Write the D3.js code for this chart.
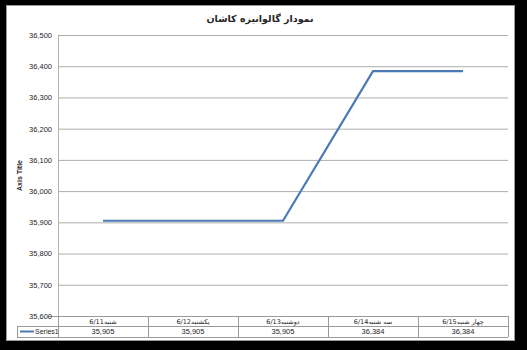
<html>
<meta charset="utf-8">
<style type="text/css">
  body { margin: 0; background: #000; }
  text { font-family: "Liberation Sans", Arial, "DejaVu Sans", sans-serif; fill: #262626; }
  .fa { font-family: "DejaVu Sans", sans-serif; }
</style>
<body>
<script src="https://d3js.org/d3.v7.min.js"></script>
<div id="chart"></div>
<script>
  const categories = ["6/11شنبه", "6/12یکشنبه", "6/13دوشنبه", "6/14سه شنبه", "6/15چهار شنبه"];
  const series1 = [35905, 35905, 35905, 36384, 36384];
  const yTicks = [35600, 35700, 35800, 35900, 36000, 36100, 36200, 36300, 36400, 36500];
  const seriesName = "Series1";
  const title = "نمودار گالوانیزه کاشان";
  const axisTitle = "Axis Title";

  const width = 527,
    height = 350;
  const plot = {left: 58, right: 508, top: 35, bottom: 316};

  const svg = d3.select("#chart").append("svg")
    .attr("width", width)
    .attr("height", height)
    .style("display", "block");

  // black frame + white chart area
  svg.append("rect").attr("width", width).attr("height", height).attr("fill", "#000");
  svg.append("rect")
    .attr("x", 6.5).attr("y", 5.5)
    .attr("width", 508).attr("height", 335)
    .attr("fill", "#fff")
    .attr("stroke", "#9a9a9a");

  const x = d3.scaleBand()
    .domain(categories)
    .range([plot.left, plot.right]);

  const y = d3.scaleLinear()
    .domain([35600, 36500])
    .range([plot.bottom, plot.top]);

  // gridlines + y labels
  const yAxis = svg.append("g")
    .attr("transform", `translate(${plot.left},0)`)
    .call(d3.axisLeft(y)
      .tickValues(yTicks)
      .tickSize(-(plot.right - plot.left))
      .tickPadding(6)
      .tickFormat(d3.format(",")));
  yAxis.select(".domain").attr("stroke", "#b3b3b3").attr("d", `M0.5,${plot.top}V${plot.bottom}`);
  yAxis.selectAll(".tick line").attr("stroke", "#adadad");
  yAxis.selectAll(".tick text").attr("font-size", "7.5px").attr("fill", "#262626");
  yAxis.select(".tick:first-of-type line").attr("x1", -10).attr("stroke", "#9a9a9a");

  // series line
  const line = d3.line()
    .x((d, i) => x(categories[i]) + x.bandwidth() / 2)
    .y(d => y(d));

  svg.append("path")
    .datum(series1)
    .attr("d", line)
    .attr("fill", "none")
    .attr("stroke", "#4a7ab5")
    .attr("stroke-width", 2.2);

  // title
  svg.append("text")
    .attr("class", "fa")
    .attr("x", 260).attr("y", 22)
    .attr("text-anchor", "middle")
    .attr("font-size", "9.5px")
    .attr("font-weight", "bold")
    .attr("fill", "#000")
    .text(title);

  // axis title
  svg.append("text")
    .attr("transform", `translate(22,${(plot.top + plot.bottom) / 2}) rotate(-90)`)
    .attr("text-anchor", "middle")
    .attr("font-size", "7px")
    .attr("font-weight", "bold")
    .text(axisTitle);

  // data table
  const rowTop = plot.bottom, rowMid = 326, rowBot = 337;
  const table = svg.append("g").attr("stroke", "#9a9a9a").attr("fill", "none");
  table.append("path").attr("d", `M${plot.left},${rowTop + 0.5}H${plot.right}`);
  table.append("path").attr("d", `M17,${rowMid + 0.5}H${plot.right}`);
  table.append("path").attr("d", `M17,${rowBot + 0.5}H${plot.right}`);
  table.append("path").attr("d", `M17.5,${rowMid}V${rowBot}`);
  table.selectAll(".col")
    .data(categories.concat([null]))
    .enter()
    .append("path")
    .attr("d", (d, i) => {
      const cx = (d === null ? plot.right : x(d)) + 0.5;
      return `M${cx},${rowTop}V${rowBot}`;
    });

  svg.selectAll(".cat")
    .data(categories)
    .enter()
    .append("text")
    .attr("class", "fa")
    .attr("x", d => x(d) + x.bandwidth() / 2)
    .attr("y", rowTop + 7.5)
    .attr("text-anchor", "middle")
    .attr("direction", "ltr")
    .attr("font-size", "6.5px")
    .text(d => d);

  svg.selectAll(".val")
    .data(series1)
    .enter()
    .append("text")
    .attr("x", (d, i) => x(categories[i]) + x.bandwidth() / 2)
    .attr("y", rowMid + 8)
    .attr("text-anchor", "middle")
    .attr("font-size", "7.5px")
    .text(d => d3.format(",")(d));

  // legend key in table
  svg.append("line")
    .attr("x1", 20).attr("x2", 34)
    .attr("y1", rowMid + 5.5).attr("y2", rowMid + 5.5)
    .attr("stroke", "#4a7ab5")
    .attr("stroke-width", 2);
  svg.append("text")
    .attr("x", 35).attr("y", rowMid + 8)
    .attr("font-size", "7px")
    .text(seriesName);
</script>
</body>
</html>
